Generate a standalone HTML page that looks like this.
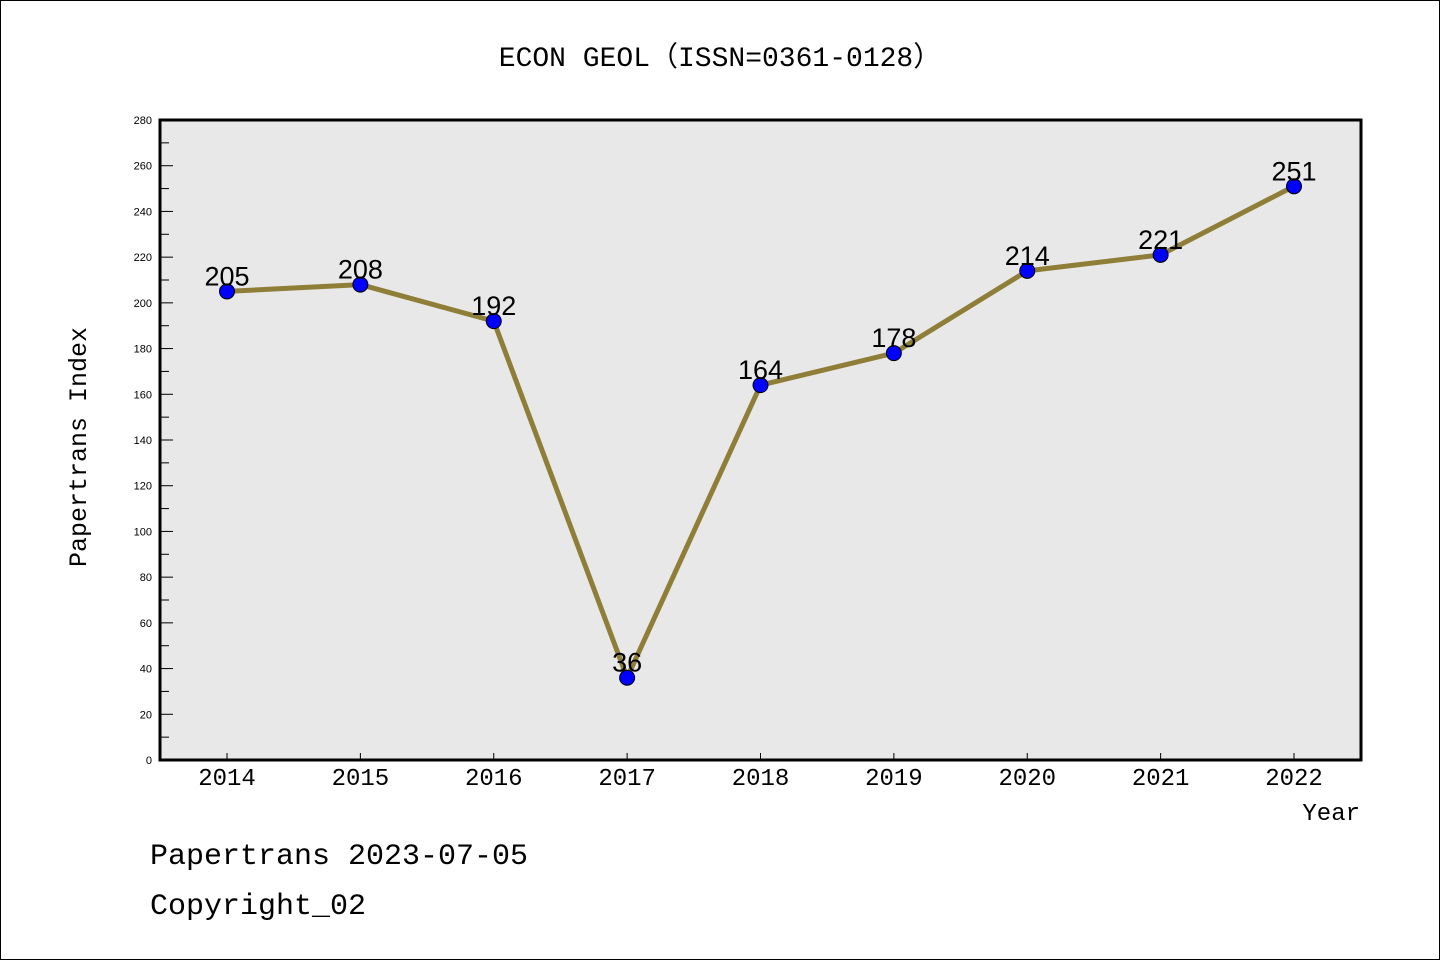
<!DOCTYPE html>
<html><head><meta charset="utf-8"><style>
html,body{margin:0;padding:0;background:#fff}
body{width:1440px;height:960px;overflow:hidden}
svg{display:block}
text{font-family:"Liberation Sans","WenQuanYi Zen Hei",sans-serif}
text.mono{font-family:"Liberation Mono","WenQuanYi Zen Hei",monospace}
</style></head><body>
<svg id="chart" width="1440" height="960">
<rect x="0.5" y="0.5" width="1439" height="959" fill="#fff" stroke="#000"/>
<text class="mono" x="720" y="66" text-anchor="middle" font-size="28">ECON GEOL（ISSN=0361-0128）</text>
<rect x="160" y="120" width="1201" height="640" fill="#e8e8e8"/>
<g id="ticks"></g>
<g id="series"></g>
<rect x="160" y="120" width="1201" height="640" fill="none" stroke="#000" stroke-width="3"/>
<text class="mono" x="86" y="447" text-anchor="middle" font-size="25" transform="rotate(-90 86 447)">Papertrans Index</text>
<text class="mono" x="1360" y="820" text-anchor="end" font-size="24">Year</text>
<text class="mono" x="150" y="864" font-size="30">Papertrans 2023-07-05</text>
<text class="mono" x="150" y="914" font-size="30">Copyright_02</text>
</svg>
<script>
const categories = ["2014","2015","2016","2017","2018","2019","2020","2021","2022"];
const values = [205,208,192,36,164,178,214,221,251];
const yTicks = [0,20,40,60,80,100,120,140,160,180,200,220,240,260,280];
const NS="http://www.w3.org/2000/svg";
function xPos(i){return 227+i*(1294-227)/(categories.length-1);}
function yPos(v){return 760-v*640/280;}
function mk(tag,attrs,parent){const e=document.createElementNS(NS,tag);for(const k in attrs)e.setAttribute(k,attrs[k]);parent.appendChild(e);return e;}
const tg=document.getElementById('ticks'), sg=document.getElementById('series');
yTicks.forEach((t,i)=>{
  const y=yPos(t);
  const l=mk('line',{x1:160,x2:173,y1:y,y2:y,stroke:'#000','stroke-width':1},tg);
  
  
  const tx=mk('text',{x:152,y:y+4,'text-anchor':'end','font-size':11},tg);
  tx.textContent=t;
  
  
  if(i<yTicks.length-1){
    const ym=yPos(t+10);
    const m=mk('line',{x1:160,x2:169,y1:ym,y2:ym,stroke:'#000','stroke-width':1},tg);
    
    
  }
});
categories.forEach((c,i)=>{
  const x=xPos(i);
  const l=mk('line',{x1:x,x2:x,y1:753,y2:760,stroke:'#000','stroke-width':1},tg);
  
  
  const tx=mk('text',{x:x,y:785,'text-anchor':'middle','font-size':24,'class':'mono'},tg);
  tx.textContent=c;
  
  
});
const pl=mk('polyline',{points:values.map((v,i)=>xPos(i)+','+yPos(v)).join(' '),fill:'none',stroke:'#8f7e38','stroke-width':5,'stroke-linejoin':'round'},sg);


values.forEach((v,i)=>{
  const c=mk('circle',{cx:xPos(i),cy:yPos(v),r:7.5,fill:'#0000ff',stroke:'#000','stroke-width':1},sg);
  
  
});
values.forEach((v,i)=>{
  const t=mk('text',{x:xPos(i),y:yPos(v)-6,'text-anchor':'middle','font-size':27},sg);
  t.textContent=v;
  
  
});
</script>
</body></html>
